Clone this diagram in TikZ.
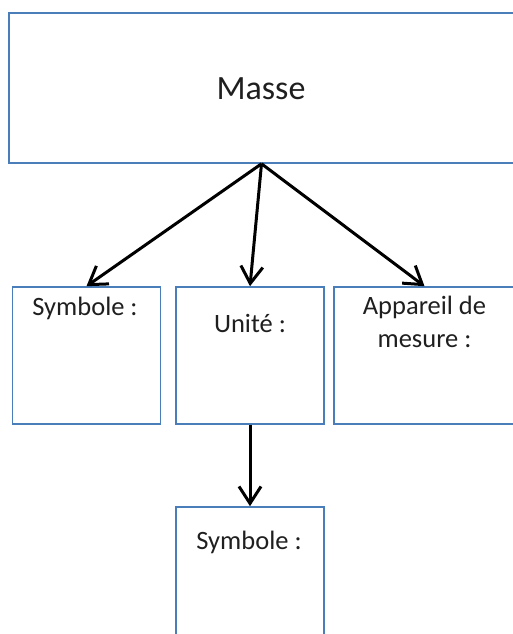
\documentclass[tikz,border=0pt]{standalone}
\usepackage{fontspec}
\setmainfont{Carlito}
\usetikzlibrary{arrows.meta,positioning}
\definecolor{boxblue}{HTML}{4A7EBB}
\begin{document}
\begin{tikzpicture}[x=1pt,y=-1pt,box_node/.style={rectangle,draw=boxblue,line width=1.6pt,inner sep=0pt},text_node/.style={anchor=base,inner sep=0pt,text=black!88,font=\fontsize{26.5}{33}\selectfont,align=center},arrow_line/.style={line width=3pt,-{Straight Barb[length=17pt,width=22pt]}}]
		\useasboundingbox (0,0) rectangle (513,634);

		\node[box_node,minimum width=505pt,minimum height=150pt] (masse) at (261.5,88) {};
		\node[box_node,minimum width=148pt,minimum height=137pt] (symbole) at (86.5,355.5) {};
		\node[box_node,minimum width=148pt,minimum height=137pt] (unite) at (250,355.5) {};
		\node[box_node,minimum width=181pt,minimum height=137pt] (appareil) at (424.5,355.5) {};
		\node[box_node,minimum width=148pt,minimum height=143pt] (symbole2) at (250,578.5) {};

		\node[text_node,font=\fontsize{34}{40}\selectfont] (masse_txt) at (261,99) {Masse};
		\node[text_node] (symbole_txt) at (85,315) {Symbole :};
		\node[text_node] (unite_txt) at (250,332) {Unité :};
		\node[text_node] (appareil_txt) at (424.5,347) {Appareil de\\mesure :};
		\node[text_node] (symbole2_txt) at (249,549) {Symbole :};

		\draw[arrow_line] (masse.south) -- (symbole.north);
		\draw[arrow_line] (masse.south) -- (unite.north);
		\draw[arrow_line] (masse.south) -- (appareil.north);

		\draw[arrow_line] (unite.south) -- (symbole2.north);
		\end{tikzpicture}
\end{document}
